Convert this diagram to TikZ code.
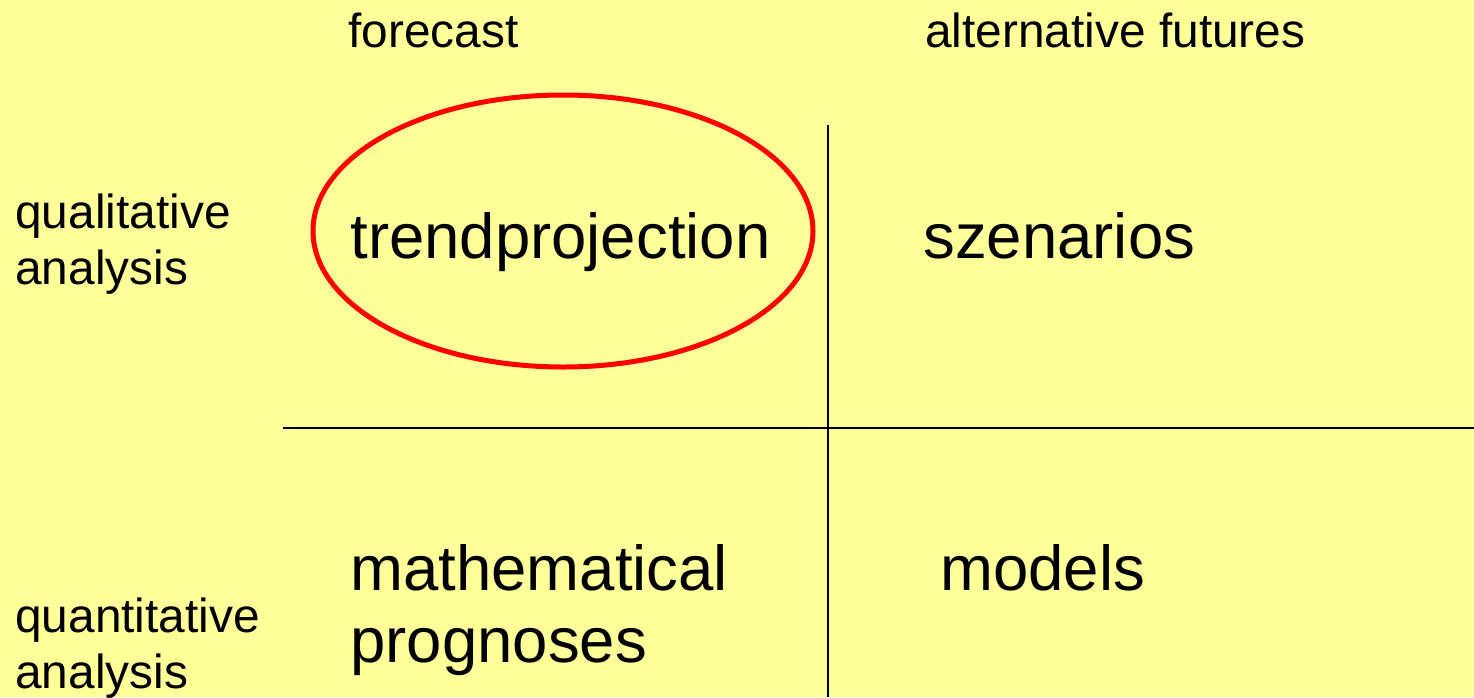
\documentclass[tikz,border=0pt]{standalone}
\usepackage{fontspec}
\setmainfont{Liberation Sans}
\definecolor{bgyellow}{HTML}{FFFF99}
\definecolor{ringred}{HTML}{FF0000}
\begin{document}
\begin{tikzpicture}[x=0.5pt,y=-0.5pt,
  small/.style={anchor=base west,inner sep=0pt,font=\fontsize{23.9}{28}\selectfont},
  big/.style={anchor=base west,inner sep=0pt,font=\fontsize{31.75}{38}\selectfont},
  rule/.style={draw=black,line width=1pt},
  ring/.style={draw=ringred,line width=2.5pt}]
\fill[bgyellow] (0,0) rectangle (1474,697);
\useasboundingbox (0,0) rectangle (1474,697);
% headers
\node[small] (fc) at (348,47) {forecast};
\node[small] (af) at (925,47) {alternative futures};
\node[small] (ql1) at (15,228) {qualitative};
\node[small] (ql2) at (15,284) {analysis};
\node[small] (qn1) at (15,632) {quantitative};
\node[small] (qn2) at (15,688) {analysis};
% cells
\node[big] (tp) at (350,258) {trendprojection};
\node[big] (sz) at (923,258) {szenarios};
\node[big] (mp1) at (350,590) {mathematical};
\node[big] (mp2) at (350,662) {prognoses};
\node[big] (md) at (940,590) {models};
% grid
\coordinate (vt) at (828,125);
\coordinate (vb) at (828,697);
\coordinate (hl) at (283,428);
\coordinate (hr) at (1474,428);
\draw[rule] (vt) -- (vb);
\draw[rule] (hl) -- (hr);
% ellipse
\coordinate (ec) at (563,231);
\draw[ring] (ec) ellipse [x radius=250, y radius=136];
\end{tikzpicture}
\end{document}
